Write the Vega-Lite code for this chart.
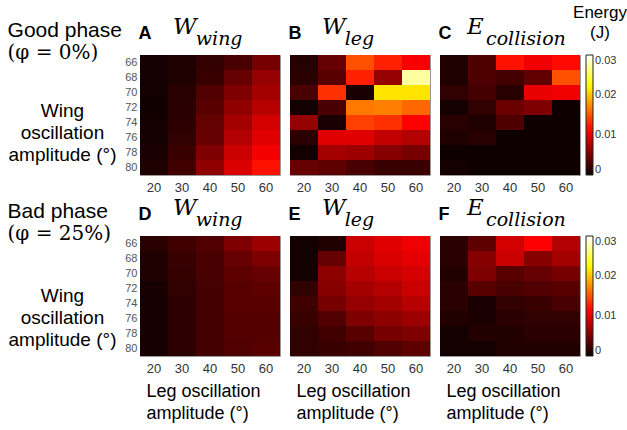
{
"$schema":"https://vega.github.io/schema/vega-lite/v6.json",
"padding":{"left":7,"top":3,"right":0,"bottom":0},
"config":{"view":{"stroke":"#9a9a9a","strokeWidth":1},"font":"Liberation Sans","concat":{"spacing":6},
 "axis":{"labelFont":"Liberation Sans","titleFont":"Liberation Sans","ticks":false,"domain":false,"grid":false,"titleFontWeight":"normal","titleColor":"black"},
 "legend":{"orient":"right","offset":5,"gradientLength":120,"gradientThickness":7,"gradientStrokeColor":"#222","gradientStrokeWidth":1,"labelFontSize":11,"labelColor":"#333","labelFont":"Liberation Sans"}},
"title":{"text":["Energy","(J)"],"anchor":"end","frame":"bounds","align":"center","dx":-17,"offset":-26,"font":"Liberation Sans","fontSize":17,"fontWeight":"normal","color":"black","lineHeight":20},
"resolve":{"scale":{"color":"independent"}},
"spacing":1,
"data":{"values":[
{"p":"A","w":66,"l":20,"e":0.00044},{"p":"A","w":66,"l":30,"e":0.00088},{"p":"A","w":66,"l":40,"e":0.00185},{"p":"A","w":66,"l":50,"e":0.00282},{"p":"A","w":66,"l":60,"e":0.00494},
{"p":"A","w":68,"l":20,"e":0.00044},{"p":"A","w":68,"l":30,"e":0.00088},{"p":"A","w":68,"l":40,"e":0.00212},{"p":"A","w":68,"l":50,"e":0.00424},{"p":"A","w":68,"l":60,"e":0.00635},
{"p":"A","w":70,"l":20,"e":0.00035},{"p":"A","w":70,"l":30,"e":0.00132},{"p":"A","w":70,"l":40,"e":0.00318},{"p":"A","w":70,"l":50,"e":0.00529},{"p":"A","w":70,"l":60,"e":0.00706},
{"p":"A","w":72,"l":20,"e":0.00026},{"p":"A","w":72,"l":30,"e":0.00141},{"p":"A","w":72,"l":40,"e":0.00353},{"p":"A","w":72,"l":50,"e":0.00618},{"p":"A","w":72,"l":60,"e":0.00794},
{"p":"A","w":74,"l":20,"e":0.00035},{"p":"A","w":74,"l":30,"e":0.00159},{"p":"A","w":74,"l":40,"e":0.00406},{"p":"A","w":74,"l":50,"e":0.00706},{"p":"A","w":74,"l":60,"e":0.00918},
{"p":"A","w":76,"l":20,"e":0.00044},{"p":"A","w":76,"l":30,"e":0.00176},{"p":"A","w":76,"l":40,"e":0.00424},{"p":"A","w":76,"l":50,"e":0.00776},{"p":"A","w":76,"l":60,"e":0.00988},
{"p":"A","w":78,"l":20,"e":0.00071},{"p":"A","w":78,"l":30,"e":0.00212},{"p":"A","w":78,"l":40,"e":0.00529},{"p":"A","w":78,"l":50,"e":0.00882},{"p":"A","w":78,"l":60,"e":0.0108},
{"p":"A","w":80,"l":20,"e":0.00088},{"p":"A","w":80,"l":30,"e":0.00247},{"p":"A","w":80,"l":40,"e":0.00618},{"p":"A","w":80,"l":50,"e":0.00953},{"p":"A","w":80,"l":60,"e":0.012},
{"p":"B","w":66,"l":20,"e":0.00115},{"p":"B","w":66,"l":30,"e":0.00424},{"p":"B","w":66,"l":40,"e":0.01478},{"p":"B","w":66,"l":50,"e":0.01266},{"p":"B","w":66,"l":60,"e":0.01094},
{"p":"B","w":68,"l":20,"e":0.00141},{"p":"B","w":68,"l":30,"e":0.00353},{"p":"B","w":68,"l":40,"e":0.01266},{"p":"B","w":68,"l":50,"e":0.00635},{"p":"B","w":68,"l":60,"e":0.0272},
{"p":"B","w":70,"l":20,"e":0.00282},{"p":"B","w":70,"l":30,"e":0.01337},{"p":"B","w":70,"l":40,"e":0.0007},{"p":"B","w":70,"l":50,"e":0.0213},{"p":"B","w":70,"l":60,"e":0.0213},
{"p":"B","w":72,"l":20,"e":0.00035},{"p":"B","w":72,"l":30,"e":0.00282},{"p":"B","w":72,"l":40,"e":0.01655},{"p":"B","w":72,"l":50,"e":0.0169},{"p":"B","w":72,"l":60,"e":0.01584},
{"p":"B","w":74,"l":20,"e":0.00635},{"p":"B","w":74,"l":30,"e":0.0007},{"p":"B","w":74,"l":40,"e":0.01407},{"p":"B","w":74,"l":50,"e":0.01337},{"p":"B","w":74,"l":60,"e":0.01125},
{"p":"B","w":76,"l":20,"e":0.00141},{"p":"B","w":76,"l":30,"e":0.00988},{"p":"B","w":76,"l":40,"e":0.00988},{"p":"B","w":76,"l":50,"e":0.00847},{"p":"B","w":76,"l":60,"e":0.00776},
{"p":"B","w":78,"l":20,"e":0.00035},{"p":"B","w":78,"l":30,"e":0.00706},{"p":"B","w":78,"l":40,"e":0.00671},{"p":"B","w":78,"l":50,"e":0.00565},{"p":"B","w":78,"l":60,"e":0.00494},
{"p":"B","w":80,"l":20,"e":0.00424},{"p":"B","w":80,"l":30,"e":0.00388},{"p":"B","w":80,"l":40,"e":0.00282},{"p":"B","w":80,"l":50,"e":0.00212},{"p":"B","w":80,"l":60,"e":0.00212},
{"p":"C","w":66,"l":20,"e":0.00088},{"p":"C","w":66,"l":30,"e":0.00309},{"p":"C","w":66,"l":40,"e":0.012},{"p":"C","w":66,"l":50,"e":0.01058},{"p":"C","w":66,"l":60,"e":0.0116},
{"p":"C","w":68,"l":20,"e":0.00088},{"p":"C","w":68,"l":30,"e":0.00309},{"p":"C","w":68,"l":40,"e":0.00265},{"p":"C","w":68,"l":50,"e":0.00397},{"p":"C","w":68,"l":60,"e":0.01478},
{"p":"C","w":70,"l":20,"e":0.00176},{"p":"C","w":70,"l":30,"e":0.00265},{"p":"C","w":70,"l":40,"e":0.00132},{"p":"C","w":70,"l":50,"e":0.01023},{"p":"C","w":70,"l":60,"e":0.01058},
{"p":"C","w":72,"l":20,"e":0.00044},{"p":"C","w":72,"l":30,"e":0.00176},{"p":"C","w":72,"l":40,"e":0.00441},{"p":"C","w":72,"l":50,"e":0.00529},{"p":"C","w":72,"l":60,"e":0.0002},
{"p":"C","w":74,"l":20,"e":0.00132},{"p":"C","w":74,"l":30,"e":0.00088},{"p":"C","w":74,"l":40,"e":0.00309},{"p":"C","w":74,"l":50,"e":0.0002},{"p":"C","w":74,"l":60,"e":0.0002},
{"p":"C","w":76,"l":20,"e":0.00088},{"p":"C","w":76,"l":30,"e":0.00132},{"p":"C","w":76,"l":40,"e":0.0002},{"p":"C","w":76,"l":50,"e":0.0002},{"p":"C","w":76,"l":60,"e":0.0002},
{"p":"C","w":78,"l":20,"e":0.0002},{"p":"C","w":78,"l":30,"e":0.0002},{"p":"C","w":78,"l":40,"e":0.0002},{"p":"C","w":78,"l":50,"e":0.0002},{"p":"C","w":78,"l":60,"e":0.0002},
{"p":"C","w":80,"l":20,"e":0.00044},{"p":"C","w":80,"l":30,"e":0.0002},{"p":"C","w":80,"l":40,"e":0.0002},{"p":"C","w":80,"l":50,"e":0.0002},{"p":"C","w":80,"l":60,"e":0.0002},
{"p":"D","w":66,"l":20,"e":0.00141},{"p":"D","w":66,"l":30,"e":0.00247},{"p":"D","w":66,"l":40,"e":0.00318},{"p":"D","w":66,"l":50,"e":0.00529},{"p":"D","w":66,"l":60,"e":0.0067},
{"p":"D","w":68,"l":20,"e":0.00088},{"p":"D","w":68,"l":30,"e":0.00212},{"p":"D","w":68,"l":40,"e":0.00282},{"p":"D","w":68,"l":50,"e":0.00424},{"p":"D","w":68,"l":60,"e":0.00529},
{"p":"D","w":70,"l":20,"e":0.00088},{"p":"D","w":70,"l":30,"e":0.00194},{"p":"D","w":70,"l":40,"e":0.00282},{"p":"D","w":70,"l":50,"e":0.00388},{"p":"D","w":70,"l":60,"e":0.00424},
{"p":"D","w":72,"l":20,"e":0.00053},{"p":"D","w":72,"l":30,"e":0.00176},{"p":"D","w":72,"l":40,"e":0.00265},{"p":"D","w":72,"l":50,"e":0.00353},{"p":"D","w":72,"l":60,"e":0.00388},
{"p":"D","w":74,"l":20,"e":0.00053},{"p":"D","w":74,"l":30,"e":0.00159},{"p":"D","w":74,"l":40,"e":0.00265},{"p":"D","w":74,"l":50,"e":0.00353},{"p":"D","w":74,"l":60,"e":0.00353},
{"p":"D","w":76,"l":20,"e":0.00053},{"p":"D","w":76,"l":30,"e":0.00159},{"p":"D","w":76,"l":40,"e":0.00265},{"p":"D","w":76,"l":50,"e":0.00335},{"p":"D","w":76,"l":60,"e":0.00335},
{"p":"D","w":78,"l":20,"e":0.00053},{"p":"D","w":78,"l":30,"e":0.00159},{"p":"D","w":78,"l":40,"e":0.00265},{"p":"D","w":78,"l":50,"e":0.00335},{"p":"D","w":78,"l":60,"e":0.00335},
{"p":"D","w":80,"l":20,"e":0.00053},{"p":"D","w":80,"l":30,"e":0.00159},{"p":"D","w":80,"l":40,"e":0.00265},{"p":"D","w":80,"l":50,"e":0.00318},{"p":"D","w":80,"l":60,"e":0.00353},
{"p":"E","w":66,"l":20,"e":0.00035},{"p":"E","w":66,"l":30,"e":0.00106},{"p":"E","w":66,"l":40,"e":0.00882},{"p":"E","w":66,"l":50,"e":0.00988},{"p":"E","w":66,"l":60,"e":0.01058},
{"p":"E","w":68,"l":20,"e":0.00035},{"p":"E","w":68,"l":30,"e":0.00424},{"p":"E","w":68,"l":40,"e":0.00847},{"p":"E","w":68,"l":50,"e":0.00953},{"p":"E","w":68,"l":60,"e":0.01006},
{"p":"E","w":70,"l":20,"e":0.00035},{"p":"E","w":70,"l":30,"e":0.006},{"p":"E","w":70,"l":40,"e":0.00794},{"p":"E","w":70,"l":50,"e":0.00882},{"p":"E","w":70,"l":60,"e":0.00935},
{"p":"E","w":72,"l":20,"e":0.00176},{"p":"E","w":72,"l":30,"e":0.00565},{"p":"E","w":72,"l":40,"e":0.00706},{"p":"E","w":72,"l":50,"e":0.00776},{"p":"E","w":72,"l":60,"e":0.00882},
{"p":"E","w":74,"l":20,"e":0.00247},{"p":"E","w":74,"l":30,"e":0.00494},{"p":"E","w":74,"l":40,"e":0.00635},{"p":"E","w":74,"l":50,"e":0.00706},{"p":"E","w":74,"l":60,"e":0.00794},
{"p":"E","w":76,"l":20,"e":0.00212},{"p":"E","w":76,"l":30,"e":0.00318},{"p":"E","w":76,"l":40,"e":0.00529},{"p":"E","w":76,"l":50,"e":0.006},{"p":"E","w":76,"l":60,"e":0.00671},
{"p":"E","w":78,"l":20,"e":0.00176},{"p":"E","w":78,"l":30,"e":0.00247},{"p":"E","w":78,"l":40,"e":0.00353},{"p":"E","w":78,"l":50,"e":0.00494},{"p":"E","w":78,"l":60,"e":0.00529},
{"p":"E","w":80,"l":20,"e":0.00176},{"p":"E","w":80,"l":30,"e":0.00212},{"p":"E","w":80,"l":40,"e":0.00247},{"p":"E","w":80,"l":50,"e":0.00318},{"p":"E","w":80,"l":60,"e":0.00388},
{"p":"F","w":66,"l":20,"e":0.00141},{"p":"F","w":66,"l":30,"e":0.00388},{"p":"F","w":66,"l":40,"e":0.00918},{"p":"F","w":66,"l":50,"e":0.01125},{"p":"F","w":66,"l":60,"e":0.00776},
{"p":"F","w":68,"l":20,"e":0.00141},{"p":"F","w":68,"l":30,"e":0.00565},{"p":"F","w":68,"l":40,"e":0.00882},{"p":"F","w":68,"l":50,"e":0.00565},{"p":"F","w":68,"l":60,"e":0.00706},
{"p":"F","w":70,"l":20,"e":0.00106},{"p":"F","w":70,"l":30,"e":0.00529},{"p":"F","w":70,"l":40,"e":0.00353},{"p":"F","w":70,"l":50,"e":0.00424},{"p":"F","w":70,"l":60,"e":0.00494},
{"p":"F","w":72,"l":20,"e":0.00141},{"p":"F","w":72,"l":30,"e":0.00353},{"p":"F","w":72,"l":40,"e":0.00282},{"p":"F","w":72,"l":50,"e":0.00318},{"p":"F","w":72,"l":60,"e":0.00353},
{"p":"F","w":74,"l":20,"e":0.00141},{"p":"F","w":74,"l":30,"e":0.00071},{"p":"F","w":74,"l":40,"e":0.00176},{"p":"F","w":74,"l":50,"e":0.00212},{"p":"F","w":74,"l":60,"e":0.00282},
{"p":"F","w":76,"l":20,"e":0.00106},{"p":"F","w":76,"l":30,"e":0.00071},{"p":"F","w":76,"l":40,"e":0.00141},{"p":"F","w":76,"l":50,"e":0.00176},{"p":"F","w":76,"l":60,"e":0.00176},
{"p":"F","w":78,"l":20,"e":0.00035},{"p":"F","w":78,"l":30,"e":0.00106},{"p":"F","w":78,"l":40,"e":0.00106},{"p":"F","w":78,"l":50,"e":0.00141},{"p":"F","w":78,"l":60,"e":0.00141},
{"p":"F","w":80,"l":20,"e":0.00035},{"p":"F","w":80,"l":30,"e":0.00035},{"p":"F","w":80,"l":40,"e":0.00106},{"p":"F","w":80,"l":50,"e":0.00106},{"p":"F","w":80,"l":60,"e":0.00106}
]},
"vconcat":[
{"title":{"text":"Good phase","subtitle":"(\u03c6 = 0%)","anchor":"start","frame":"bounds","offset":-47,"font":"Liberation Sans","fontSize":21,"fontWeight":"normal","color":"black","subtitleFont":"DejaVu Serif","subtitleFontSize":20,"subtitleColor":"black","subtitlePadding":2},
 "hconcat":[
 {"width":140,"height":120,"transform":[{"filter":"datum.p === 'A'"}],
  "title":{"text":"W","subtitle":"\u200b\u2003\u2009wing","anchor":"start","frame":"group","dx":33,"offset":-25,"font":"DejaVu Serif","fontStyle":"italic","fontWeight":"normal","fontSize":23,"color":"black","subtitleFont":"DejaVu Serif","subtitleFontStyle":"italic","subtitleFontSize":19,"subtitleColor":"black","subtitlePadding":-9},
  "layer":[
   {"mark":"rect","encoding":{
     "x":{"field":"l","type":"ordinal","axis":{"title":null,"labelAngle":0,"labelFontSize":13,"labelColor":"#333","labelPadding":6}},
     "y":{"field":"w","type":"ordinal","axis":{"title":["Wing","oscillation","amplitude (\u00b0)"],"titleAngle":0,"titleAlign":"center","titleBaseline":"middle","titleX":-78,"titleY":55,"titleFontSize":19,"titleLineHeight":22,"labelFontSize":11,"labelColor":"#555","labelPadding":3}},
     "color":{"field":"e","type":"quantitative","scale":{"domain":[0,0.01125,0.0225,0.03],"range":["#0b0000","#ff0000","#ffff00","#ffffff"],"interpolate":"rgb"},
       "legend":{"title":null,"values":[0,0.01,0.02,0.03],"format":".2~f"}}}},
   {"mark":{"type":"rect","opacity":0},"encoding":{"x":{"field":"l","type":"ordinal","axis":{"orient":"top","title":"A","labels":false,"titleFontSize":18,"titleFontWeight":"bold","titleAlign":"left","titleAnchor":"start","titleBaseline":"alphabetic","titleX":-2,"titleY":-17}}}}
  ],
  "resolve":{"axis":{"x":"independent"}}},
 {"width":140,"height":120,"transform":[{"filter":"datum.p === 'B'"}],
  "title":{"text":"W","subtitle":"\u200b\u2003\u2009leg","anchor":"start","frame":"group","dx":32,"offset":-25,"font":"DejaVu Serif","fontStyle":"italic","fontWeight":"normal","fontSize":23,"color":"black","subtitleFont":"DejaVu Serif","subtitleFontStyle":"italic","subtitleFontSize":19,"subtitleColor":"black","subtitlePadding":-9},
  "layer":[
   {"mark":"rect","encoding":{
     "x":{"field":"l","type":"ordinal","axis":{"title":null,"labelAngle":0,"labelFontSize":13,"labelColor":"#333","labelPadding":6}},
     "y":{"field":"w","type":"ordinal","axis":null},
     "color":{"field":"e","type":"quantitative","scale":{"domain":[0,0.01125,0.0225,0.03],"range":["#0b0000","#ff0000","#ffff00","#ffffff"],"interpolate":"rgb"},
       "legend":{"title":null,"values":[0,0.01,0.02,0.03],"format":".2~f"}}}},
   {"mark":{"type":"rect","opacity":0},"encoding":{"x":{"field":"l","type":"ordinal","axis":{"orient":"top","title":"B","labels":false,"titleFontSize":18,"titleFontWeight":"bold","titleAlign":"left","titleAnchor":"start","titleBaseline":"alphabetic","titleX":-2,"titleY":-17}}}}
  ],
  "resolve":{"axis":{"x":"independent"}}},
 {"width":140,"height":120,"transform":[{"filter":"datum.p === 'C'"}],
  "title":{"text":"E","subtitle":"\u200b\u2003collision","anchor":"start","frame":"group","dx":27,"offset":-25,"font":"DejaVu Serif","fontStyle":"italic","fontWeight":"normal","fontSize":23,"color":"black","subtitleFont":"DejaVu Serif","subtitleFontStyle":"italic","subtitleFontSize":19,"subtitleColor":"black","subtitlePadding":-9},
  "layer":[
   {"mark":"rect","encoding":{
     "x":{"field":"l","type":"ordinal","axis":{"title":null,"labelAngle":0,"labelFontSize":13,"labelColor":"#333","labelPadding":6}},
     "y":{"field":"w","type":"ordinal","axis":null},
     "color":{"field":"e","type":"quantitative","scale":{"domain":[0,0.01125,0.0225,0.03],"range":["#0b0000","#ff0000","#ffff00","#ffffff"],"interpolate":"rgb"},
       "legend":{"title":null,"values":[0,0.01,0.02,0.03],"format":".2~f"}}}},
   {"mark":{"type":"rect","opacity":0},"encoding":{"x":{"field":"l","type":"ordinal","axis":{"orient":"top","title":"C","labels":false,"titleFontSize":18,"titleFontWeight":"bold","titleAlign":"left","titleAnchor":"start","titleBaseline":"alphabetic","titleX":-2,"titleY":-17}}}}
  ],
  "resolve":{"axis":{"x":"independent"}}}
 ]},
{"title":{"text":"Bad phase","subtitle":"(\u03c6 = 25%)","anchor":"start","frame":"bounds","offset":-47,"font":"Liberation Sans","fontSize":21,"fontWeight":"normal","color":"black","subtitleFont":"DejaVu Serif","subtitleFontSize":20,"subtitleColor":"black","subtitlePadding":2},
 "hconcat":[
 {"width":140,"height":120,"transform":[{"filter":"datum.p === 'D'"}],
  "title":{"text":"W","subtitle":"\u200b\u2003\u2009wing","anchor":"start","frame":"group","dx":33,"offset":-25,"font":"DejaVu Serif","fontStyle":"italic","fontWeight":"normal","fontSize":23,"color":"black","subtitleFont":"DejaVu Serif","subtitleFontStyle":"italic","subtitleFontSize":19,"subtitleColor":"black","subtitlePadding":-9},
  "layer":[
   {"mark":"rect","encoding":{
     "x":{"field":"l","type":"ordinal","axis":{"title":["Leg oscillation","amplitude (\u00b0)"],"titleAlign":"left","titleAnchor":"start","titleBaseline":"alphabetic","titleX":6,"titleY":40,"titleFontSize":18,"titleLineHeight":22,"labelAngle":0,"labelFontSize":13,"labelColor":"#333","labelPadding":6}},
     "y":{"field":"w","type":"ordinal","axis":{"title":["Wing","oscillation","amplitude (\u00b0)"],"titleAngle":0,"titleAlign":"center","titleBaseline":"middle","titleX":-78,"titleY":59,"titleFontSize":19,"titleLineHeight":22,"labelFontSize":11,"labelColor":"#555","labelPadding":3}},
     "color":{"field":"e","type":"quantitative","scale":{"domain":[0,0.01125,0.0225,0.03],"range":["#0b0000","#ff0000","#ffff00","#ffffff"],"interpolate":"rgb"},
       "legend":{"title":null,"values":[0,0.01,0.02,0.03],"format":".2~f"}}}},
   {"mark":{"type":"rect","opacity":0},"encoding":{"x":{"field":"l","type":"ordinal","axis":{"orient":"top","title":"D","labels":false,"titleFontSize":18,"titleFontWeight":"bold","titleAlign":"left","titleAnchor":"start","titleBaseline":"alphabetic","titleX":-2,"titleY":-17}}}}
  ],
  "resolve":{"axis":{"x":"independent"}}},
 {"width":140,"height":120,"transform":[{"filter":"datum.p === 'E'"}],
  "title":{"text":"W","subtitle":"\u200b\u2003\u2009leg","anchor":"start","frame":"group","dx":32,"offset":-25,"font":"DejaVu Serif","fontStyle":"italic","fontWeight":"normal","fontSize":23,"color":"black","subtitleFont":"DejaVu Serif","subtitleFontStyle":"italic","subtitleFontSize":19,"subtitleColor":"black","subtitlePadding":-9},
  "layer":[
   {"mark":"rect","encoding":{
     "x":{"field":"l","type":"ordinal","axis":{"title":["Leg oscillation","amplitude (\u00b0)"],"titleAlign":"left","titleAnchor":"start","titleBaseline":"alphabetic","titleX":6,"titleY":40,"titleFontSize":18,"titleLineHeight":22,"labelAngle":0,"labelFontSize":13,"labelColor":"#333","labelPadding":6}},
     "y":{"field":"w","type":"ordinal","axis":null},
     "color":{"field":"e","type":"quantitative","scale":{"domain":[0,0.01125,0.0225,0.03],"range":["#0b0000","#ff0000","#ffff00","#ffffff"],"interpolate":"rgb"},
       "legend":{"title":null,"values":[0,0.01,0.02,0.03],"format":".2~f"}}}},
   {"mark":{"type":"rect","opacity":0},"encoding":{"x":{"field":"l","type":"ordinal","axis":{"orient":"top","title":"E","labels":false,"titleFontSize":18,"titleFontWeight":"bold","titleAlign":"left","titleAnchor":"start","titleBaseline":"alphabetic","titleX":-2,"titleY":-17}}}}
  ],
  "resolve":{"axis":{"x":"independent"}}},
 {"width":140,"height":120,"transform":[{"filter":"datum.p === 'F'"}],
  "title":{"text":"E","subtitle":"\u200b\u2003collision","anchor":"start","frame":"group","dx":27,"offset":-25,"font":"DejaVu Serif","fontStyle":"italic","fontWeight":"normal","fontSize":23,"color":"black","subtitleFont":"DejaVu Serif","subtitleFontStyle":"italic","subtitleFontSize":19,"subtitleColor":"black","subtitlePadding":-9},
  "layer":[
   {"mark":"rect","encoding":{
     "x":{"field":"l","type":"ordinal","axis":{"title":["Leg oscillation","amplitude (\u00b0)"],"titleAlign":"left","titleAnchor":"start","titleBaseline":"alphabetic","titleX":6,"titleY":40,"titleFontSize":18,"titleLineHeight":22,"labelAngle":0,"labelFontSize":13,"labelColor":"#333","labelPadding":6}},
     "y":{"field":"w","type":"ordinal","axis":null},
     "color":{"field":"e","type":"quantitative","scale":{"domain":[0,0.01125,0.0225,0.03],"range":["#0b0000","#ff0000","#ffff00","#ffffff"],"interpolate":"rgb"},
       "legend":{"title":null,"values":[0,0.01,0.02,0.03],"format":".2~f"}}}},
   {"mark":{"type":"rect","opacity":0},"encoding":{"x":{"field":"l","type":"ordinal","axis":{"orient":"top","title":"F","labels":false,"titleFontSize":18,"titleFontWeight":"bold","titleAlign":"left","titleAnchor":"start","titleBaseline":"alphabetic","titleX":-2,"titleY":-17}}}}
  ],
  "resolve":{"axis":{"x":"independent"}}}
 ]}
]
}
